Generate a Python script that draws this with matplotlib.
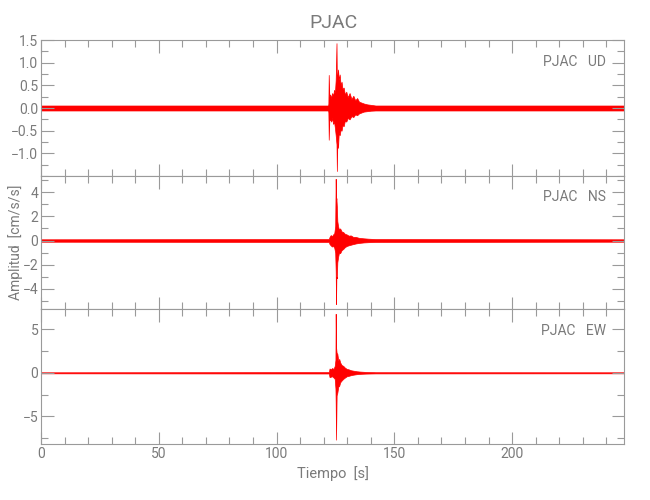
import matplotlib
matplotlib.use("Agg")
import matplotlib.pyplot as plt
from matplotlib.ticker import MultipleLocator

plt.rcParams["font.family"] = ["Roboto", "DejaVu Sans"]

GREY = "#9a9a9a"
TXT = "#7a7a7a"
RED = "#ff0000"

# envelope of each trace (time in s, upper / lower amplitude in cm/s/s)
t_ud = [0, 121.9, 122.0, 122.15, 122.4, 122.8, 123.2, 123.6, 124.0, 124.4,
        124.8, 125.1, 125.45, 125.6, 125.8, 126.1, 126.4, 126.8, 127.2, 127.6, 128.0, 128.5,
        129.0, 129.6, 130.2, 131.0, 131.8, 132.6, 133.4, 134.2, 135.0, 136.0, 137.0, 138.5,
        140.0, 142.0, 247.5]
up_ud = [0.055, 0.055, 0.10, 0.73, 0.25, 0.30, 0.22, 0.33, 0.27, 0.40,
         0.35, 0.62, 1.43, 0.55, 0.70, 0.85, 0.62, 0.74, 0.50, 0.58, 0.42, 0.45, 0.30, 0.36,
         0.24, 0.33, 0.20, 0.27, 0.17, 0.22, 0.14, 0.12, 0.10, 0.08, 0.07, 0.055, 0.055]
lo_ud = [-0.055, -0.055, -0.10, -0.70, -0.28, -0.25, -0.30, -0.22,
         -0.35, -0.30, -0.45, -0.60, -0.80, -1.39, -0.75, -0.88, -0.55, -0.60, -0.48, -0.50,
         -0.38, -0.40, -0.28, -0.30, -0.22, -0.25, -0.18, -0.20, -0.14, -0.16, -0.12, -0.10,
         -0.08, -0.07, -0.06, -0.055, -0.055]

t_ns = [0, 122.2, 122.5, 123.0, 123.5, 124.0, 124.5, 124.9, 125.1, 125.25, 125.4, 125.6,
        125.8, 126.1, 126.5, 127.0, 127.6, 128.3, 129.0, 129.8, 130.6, 131.5, 132.5, 133.5,
        135.0, 137.0, 139.0, 142.0, 247.5]
up_ns = [0.10, 0.12, 0.30, 0.45, 0.35, 0.50, 0.60, 1.20, 5.10, 3.20, 3.50, 2.80, 1.60,
         1.20, 0.90, 1.00, 0.75, 0.70, 0.55, 0.50, 0.40, 0.42, 0.30, 0.30, 0.22, 0.18, 0.15,
         0.12, 0.10]
lo_ns = [-0.10, -0.12, -0.30, -0.40, -0.50, -0.45, -0.60, -1.00, -2.50, -5.25, -3.00,
         -3.10, -1.80, -1.40, -1.00, -1.05, -0.80, -0.70, -0.55, -0.45, -0.40, -0.35, -0.30,
         -0.25, -0.20, -0.16, -0.14, -0.12, -0.10]

t_ew = [0, 122.2, 122.5, 123.0, 123.6, 124.2, 124.7, 125.0, 125.1, 125.25, 125.5, 125.8,
        126.2, 126.6, 127.0, 127.6, 128.3, 129.0, 129.8, 130.6, 131.5, 132.5, 134.0, 135.5,
        138.0, 142.0, 247.5]
up_ew = [0.06, 0.08, 0.50, 0.40, 0.55, 0.45, 0.80, 1.50, 6.80, 3.00, 2.30, 2.20, 1.40, 1.60,
         1.20, 0.90, 0.80, 0.60, 0.45, 0.40, 0.30, 0.25, 0.18, 0.14, 0.10, 0.07, 0.06]
lo_ew = [-0.06, -0.08, -0.50, -0.45, -0.40, -0.55, -0.70, -1.80, -3.50, -7.70, -2.60, -2.30,
         -1.60, -1.50, -1.10, -0.90, -0.70, -0.55, -0.40, -0.35, -0.28, -0.22, -0.16, -0.12,
         -0.09, -0.07, -0.06]

components = ["UD", "NS", "EW"]
times = [t_ud, t_ns, t_ew]
uppers = [up_ud, up_ns, up_ew]
lowers = [lo_ud, lo_ns, lo_ew]
ylims = [(-1.5, 1.5), (-5.66, 5.33), (-8.2, 7.35)]
major_steps = [0.5, 2, 5]
minor_steps = [0.25, 1, 2.5]
XMAX = 247.5

fig = plt.figure(figsize=(6.5, 5), dpi=100)
boxes = [(40, 176), (176, 309), (309, 444)]
axes = []
for (top, bot) in boxes:
    ax = fig.add_axes([41 / 650, 1 - bot / 500, 583 / 650, (bot - top) / 500])
    axes.append(ax)

for i, ax in enumerate(axes):
    ax.fill_between(times[i], lowers[i], uppers[i], color=RED, linewidth=0.5)
    ax.set_xlim(0, XMAX)
    ax.set_ylim(*ylims[i])
    ax.xaxis.set_major_locator(MultipleLocator(50))
    ax.xaxis.set_minor_locator(MultipleLocator(10))
    ax.yaxis.set_major_locator(MultipleLocator(major_steps[i]))
    ax.yaxis.set_minor_locator(MultipleLocator(minor_steps[i]))
    ax.tick_params(which="both", direction="in", top=True, right=True, colors=GREY,
                   labelcolor=TXT, labelsize=10, width=0.8, pad=2)
    ax.tick_params(which="major", length=9)
    ax.tick_params(which="minor", length=5)
    for s in ax.spines.values():
        s.set_color(GREY)
        s.set_linewidth(0.8)
    if i < 2:
        ax.tick_params(labelbottom=False)
    ax.text(0.969, 0.84, "PJAC   " + components[i], transform=ax.transAxes,
            ha="right", va="center", color=TXT, fontsize=10)

axes[0].set_yticks([-1.0, -0.5, 0.0, 0.5, 1.0, 1.5])
axes[0].set_yticklabels(["\u22121.0", "\u22120.5", "0.0", "0.5", "1.0", "1.5"])
axes[1].set_yticks([-4, -2, 0, 2, 4])
axes[2].set_yticks([-5, 0, 5])
axes[2].set_xticks([0, 50, 100, 150, 200])

fig.text(0.513, 0.955, "PJAC", ha="center", va="center", color=TXT, fontsize=14)
fig.text(16 / 650, 1 - 242 / 500, "Amplitud  [cm/s/s]", rotation=90, ha="center",
         va="center", color=TXT, fontsize=10)
axes[2].set_xlabel("Tiempo  [s]", color=TXT, fontsize=10.5, labelpad=4)

fig.savefig("out.png", dpi=100, facecolor="white")
